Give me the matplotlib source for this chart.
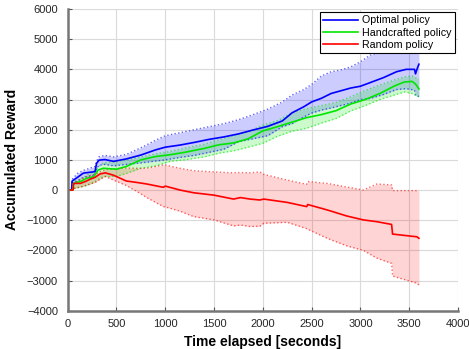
import numpy as np
import matplotlib
matplotlib.use('Agg')
import matplotlib.pyplot as plt

plt.rcParams['font.family'] = ['Liberation Sans', 'DejaVu Sans']

# optimal policy (blue)
opt_t = [0, 40, 45, 100, 160, 280, 295, 320, 380, 470, 600, 750, 900, 1000, 1150, 1300,
         1450, 1600, 1750, 1900, 2050, 2200, 2300, 2420, 2500, 2600, 2700, 2800, 2900,
         3000, 3100, 3240, 3370, 3470, 3555, 3565, 3580, 3600]
opt_mean = [0, 0, 300, 420, 560, 610, 880, 990, 1010, 950, 1030, 1160, 1330, 1420, 1490, 1580,
            1680, 1760, 1860, 1990, 2110, 2290, 2560, 2760, 2920, 3040, 3200, 3290, 3380,
            3440, 3560, 3730, 3920, 4000, 4000, 3850, 4000, 4170]
opt_up = [0, 0, 350, 550, 650, 780, 950, 1100, 1150, 1100, 1180, 1400, 1650, 1800, 1900, 2000,
          2100, 2200, 2330, 2500, 2680, 2920, 3150, 3330, 3500, 3780, 3920, 3980, 4080,
          4250, 4470, 4600, 4650, 4680, 4700, 4700, 4700, 4700]
opt_lo = [0, 0, 250, 300, 420, 500, 700, 820, 850, 800, 850, 900, 960, 1000, 1080, 1150,
          1250, 1350, 1600, 1700, 1800, 2100, 2200, 2420, 2550, 2650, 2720, 2800, 2880,
          3000, 3030, 3170, 3330, 3360, 3310, 3150, 3120, 3100]

# handcrafted policy (green)
hand_t = [0, 50, 60, 130, 195, 265, 310, 365, 500, 600, 750, 900, 1050, 1200, 1400, 1550,
          1700, 1850, 2000, 2150, 2300, 2450, 2600, 2750, 2900, 3050, 3200, 3350, 3450,
          3530, 3560, 3580, 3600]
hand_mean = [0, 0, 220, 280, 390, 440, 660, 720, 690, 780, 1000, 1110, 1170, 1250, 1380, 1500,
             1560, 1700, 1960, 2100, 2250, 2400, 2500, 2630, 2850, 3000, 3200, 3450, 3580,
             3600, 3530, 3450, 3350]
hand_up = [0, 0, 300, 350, 500, 600, 750, 900, 950, 1000, 1100, 1200, 1280, 1390, 1520, 1670,
           1800, 1940, 2150, 2300, 2560, 2700, 2800, 2900, 3090, 3300, 3480, 3650, 3750,
           3780, 3720, 3700, 3700]
hand_lo = [0, 0, 50, 100, 150, 250, 350, 450, 450, 550, 720, 800, 950, 1000, 1100, 1220,
           1300, 1420, 1550, 1780, 1950, 2050, 2220, 2370, 2620, 2800, 3000, 3150, 3250,
           3200, 3150, 3100, 3100]

# random policy (red)
rand_t = [0, 55, 60, 130, 180, 230, 280, 330, 385, 470, 600, 710, 810, 980, 1000, 1150, 1290,
          1500, 1700, 1770, 1870, 1970, 2010, 2250, 2450, 2460, 2660, 2860, 3030, 3170,
          3320, 3330, 3580, 3600]
rand_mean = [0, 0, 220, 220, 280, 360, 420, 530, 570, 490, 300, 250, 200, 90, 130, 0, -90,
             -170, -300, -250, -300, -330, -300, -410, -550, -480, -660, -860, -990, -1050,
             -1140, -1460, -1550, -1600]
rand_up = [0, 0, 200, 350, 420, 480, 520, 600, 680, 700, 730, 720, 720, 830, 830, 720, 640,
           600, 570, 580, 570, 600, 520, 330, 190, 280, 220, 100, 0, 200, 170, -20, -20, -20]
rand_lo = [0, 0, 50, 100, 150, 200, 250, 350, 450, 330, 150, -50, -250, -550, -560, -700,
           -880, -990, -1190, -1160, -1210, -1200, -1100, -1070, -1280, -1300, -1600, -1850,
           -2000, -2260, -2430, -2850, -3090, -3150]

labels = ['Optimal policy', 'Handcrafted policy', 'Random policy']
colors = ['#0000ff', '#00e600', '#ff0000']
fill_alpha = [0.2, 0.2, 0.17]

series = [(opt_t, opt_mean, opt_lo, opt_up),
          (hand_t, hand_mean, hand_lo, hand_up),
          (rand_t, rand_mean, rand_lo, rand_up)]

fig = plt.figure(figsize=(4.69, 3.49), dpi=100)
ax = fig.add_axes([0.1444, 0.1097, 0.832, 0.8645])

for (t, m, lo, up), c, a in zip(series, colors, fill_alpha):
    ax.fill_between(t, lo, up, color=c, alpha=a, linewidth=0)
for (t, m, lo, up), c in zip(series, colors):
    ax.plot(t, up, ':', color=c, alpha=0.6, linewidth=1.0)
    ax.plot(t, lo, ':', color=c, alpha=0.6, linewidth=1.0)
lines = []
for (t, m, lo, up), c, lab in zip(series, colors, labels):
    ln, = ax.plot(t, m, '-', color=c, linewidth=1.2, label=lab)
    lines.append(ln)

ax.set_xlim(0, 4000)
ax.set_ylim(-4000, 6000)
ax.set_xticks(np.arange(0, 4001, 500))
ax.set_yticks(np.arange(-4000, 6001, 1000))
ax.grid(True, color='#dadada', linewidth=0.8)
ax.set_axisbelow(True)
for s in ['top', 'right']:
    ax.spines[s].set_visible(False)
for s in ['left', 'bottom']:
    ax.spines[s].set_color('#777777')
    ax.spines[s].set_linewidth(1.8)
ax.tick_params(direction='in', length=3, color='#555555', labelsize=8,
               labelcolor='#262626')
ax.tick_params(axis='y', pad=7)
ax.tick_params(axis='x', pad=6)

ax.set_xlabel('Time elapsed [seconds]', fontsize=10, fontweight='bold', labelpad=4)
ax.set_ylabel('Accumulated Reward', fontsize=10, fontweight='bold', labelpad=6)

leg = ax.legend(handles=lines, loc='upper right', fontsize=7.7, fancybox=False,
                framealpha=1, edgecolor='black', handlelength=3.3, handletextpad=0.35,
                labelspacing=0.22, borderpad=0.3, borderaxespad=0.3)
leg.get_frame().set_linewidth(0.8)

fig.savefig('out.png', dpi=100)
